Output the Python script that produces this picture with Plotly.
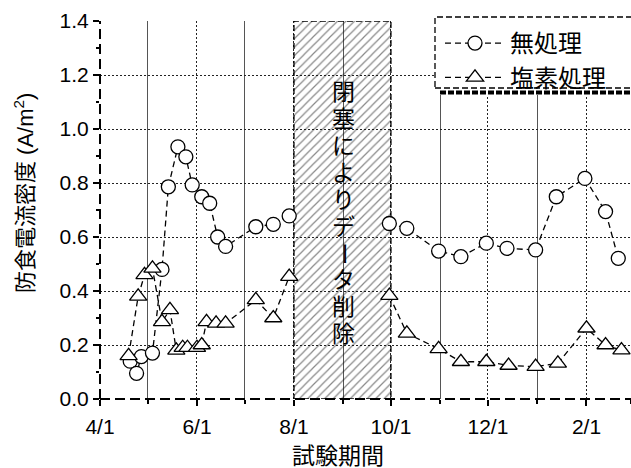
import plotly.graph_objects as go

# 無処理 (untreated) series
untreated_dates = [
    "2010-04-20", "2010-04-24", "2010-04-27", "2010-05-04", "2010-05-10",
    "2010-05-14", "2010-05-20", "2010-05-25", "2010-05-29", "2010-06-04",
    "2010-06-09", "2010-06-14", "2010-06-19", "2010-07-08", "2010-07-19",
    "2010-07-29", "2010-09-30", "2010-10-11", "2010-10-31", "2010-11-14",
    "2010-11-30", "2010-12-13", "2010-12-31", "2011-01-13", "2011-01-31",
    "2011-02-13", "2011-02-21",
]
untreated_vals = [
    0.14, 0.095, 0.157, 0.17, 0.48,
    0.786, 0.934, 0.897, 0.793, 0.749,
    0.725, 0.60, 0.565, 0.638, 0.647,
    0.678, 0.65, 0.632, 0.548, 0.527,
    0.577, 0.558, 0.552, 0.749, 0.817,
    0.694, 0.521,
]

# 塩素処理 (chlorinated) series
chlorine_dates = [
    "2010-04-19", "2010-04-25", "2010-04-29", "2010-05-04", "2010-05-10",
    "2010-05-15", "2010-05-19", "2010-05-23", "2010-05-26", "2010-06-01",
    "2010-06-04", "2010-06-07", "2010-06-13", "2010-06-19", "2010-07-08",
    "2010-07-19", "2010-07-29", "2010-09-30", "2010-10-11", "2010-10-31",
    "2010-11-14", "2010-11-30", "2010-12-14", "2010-12-31", "2011-01-14",
    "2011-02-01", "2011-02-13", "2011-02-23",
]
chlorine_vals = [
    0.16, 0.38, 0.46, 0.484, 0.286,
    0.33, 0.18, 0.19, 0.19, 0.19,
    0.20, 0.286, 0.28, 0.28, 0.367,
    0.30, 0.453, 0.383, 0.243, 0.186,
    0.138, 0.138, 0.124, 0.12, 0.132,
    0.262, 0.20, 0.181,
]

series_names = ["無処理", "塩素処理"]

# period with no data (pipe blockage)
gap_start, gap_end = "2010-08-01", "2010-09-30"
gap_band = ["2010-08-01", "2010-10-01"]
gap_mid = "2010-09-01"
gap_label = "閉塞によりデータ削除"

x_range = ["2010-04-01", "2011-03-01"]
y_range = [0, 1.4]

LATIN = "Liberation Sans, Arial, sans-serif"
CJK = "Liberation Sans, Noto Sans CJK JP, sans-serif"

W, H = 631, 468
ML, MR, MT, MB = 100, 0, 21, 69
PW, PH = W - ML - MR, H - MT - MB


def px_x(px):
    return (px - ML) / PW


def px_y(py):
    return (H - MB - py) / PH


def break_at_gap(dates, vals):
    """Insert a None so the dashed line is not drawn across the blockage."""
    xs, ys = [], []
    for d, v in zip(dates, vals):
        if xs and xs[-1] < gap_start <= d:
            xs.append(gap_mid)
            ys.append(None)
        xs.append(d)
        ys.append(v)
    return xs, ys


fig = go.Figure()

# hatched no-data band
fig.add_trace(go.Scatter(
    x=[gap_band[0], gap_band[1], gap_band[1], gap_band[0], gap_band[0]],
    y=[y_range[0], y_range[0], y_range[1], y_range[1], y_range[0]],
    mode="lines", fill="toself", fillcolor="rgba(0,0,0,0)",
    fillpattern=dict(shape="/", size=6, solidity=0.2, fgcolor="#111",
                     bgcolor="rgba(0,0,0,0)"),
    line=dict(color="black", width=1.3, dash="6px,3px"),
    showlegend=False, hoverinfo="skip",
))

line_style = dict(color="black", width=1.3, dash="6px,4px")

ux, uy = break_at_gap(untreated_dates, untreated_vals)
cx, cy = break_at_gap(chlorine_dates, chlorine_vals)

fig.add_trace(go.Scatter(
    x=ux, y=uy, name=series_names[0], connectgaps=False,
    mode="lines+markers", line=line_style,
    marker=dict(symbol="circle", size=14, color="white",
                line=dict(color="black", width=1.3)),
))
fig.add_trace(go.Scatter(
    x=cx, y=cy, name=series_names[1], connectgaps=False,
    mode="lines+markers", line=line_style,
    marker=dict(symbol="triangle-up", size=15, color="white",
                line=dict(color="black", width=1.3)),
))

shapes = [
    # dashed axis lines
    dict(type="line", xref="paper", yref="paper", x0=0, x1=0, y0=0, y1=1,
         line=dict(color="black", width=2, dash="10px,5px"), layer="above"),
    dict(type="line", xref="paper", yref="paper", x0=0, x1=1, y0=0, y1=0,
         line=dict(color="black", width=2, dash="10px,5px"), layer="above"),
    # legend box with shadow
    dict(type="rect", xref="paper", yref="paper",
         x0=px_x(435), x1=px_x(660), y0=px_y(95), y1=px_y(17),
         fillcolor="white", line=dict(width=0), layer="above"),
    dict(type="rect", xref="paper", yref="paper",
         x0=px_x(435), x1=px_x(660), y0=px_y(88), y1=px_y(17),
         fillcolor="white", line=dict(color="black", width=1.3, dash="6px,3px"),
         layer="above"),
    dict(type="line", xref="paper", yref="paper",
         x0=px_x(440), x1=px_x(660), y0=px_y(92.5), y1=px_y(92.5),
         line=dict(color="black", width=4, dash="6px,2px"), layer="above"),
]

annotations = [
    dict(text="防食電流密度 (A/m<sup>2</sup>)", xref="paper", yref="paper",
         x=px_x(24), y=px_y(193), textangle=-90, showarrow=False,
         font=dict(family=CJK, size=22, color="black"),
         xanchor="center", yanchor="middle"),
    dict(text="試験期間", xref="paper", yref="paper",
         x=px_x(338), y=px_y(456), showarrow=False,
         font=dict(family=CJK, size=23, color="black"),
         xanchor="center", yanchor="middle"),
]

# vertical label inside the hatched band, one character per line
top_c, pitch = 92, 26.9
for i, ch in enumerate(gap_label):
    annotations.append(dict(
        text=ch, xref="x", yref="paper", x=gap_mid, y=px_y(top_c + i * pitch),
        showarrow=False, textangle=90 if ch == "ー" else 0,
        font=dict(family=CJK, size=23, color="black"),
        xanchor="center", yanchor="middle",
    ))

fig.update_layout(
    width=W, height=H,
    margin=dict(l=ML, r=MR, t=MT, b=MB),
    plot_bgcolor="white", paper_bgcolor="white",
    shapes=shapes, annotations=annotations,
    legend=dict(
        x=px_x(440), y=px_y(21), xanchor="left", yanchor="top",
        bgcolor="rgba(0,0,0,0)", borderwidth=0, itemwidth=60,
        font=dict(family=CJK, size=24, color="black"),
        tracegroupgap=0,
    ),
)

fig.update_xaxes(
    type="date", range=x_range,
    tick0="2010-04-01", dtick="M2", tickformat="%-m/%-d",
    ticks="outside", ticklen=6, tickwidth=1.5, tickcolor="black",
    ticklabelstandoff=3,
    tickfont=dict(family=LATIN, size=21, color="black"),
    showline=False, zeroline=False,
    showgrid=True, gridcolor="#222", gridwidth=1, griddash="2px,2px",
    minor=dict(dtick="M1", ticks="outside", ticklen=4, tickcolor="black",
               showgrid=True, gridcolor="#555", gridwidth=1, griddash="solid"),
)
fig.update_yaxes(
    range=y_range, dtick=0.2, tickformat=".1f",
    ticks="outside", ticklen=6, tickwidth=1.5, tickcolor="black",
    tickfont=dict(family=LATIN, size=21, color="black"),
    showline=False, zeroline=False,
    showgrid=True, gridcolor="#222", gridwidth=1, griddash="2px,2px",
    minor=dict(dtick=0.1, ticks="outside", ticklen=3, tickcolor="black",
               showgrid=False),
)

fig.write_html("out.html")
